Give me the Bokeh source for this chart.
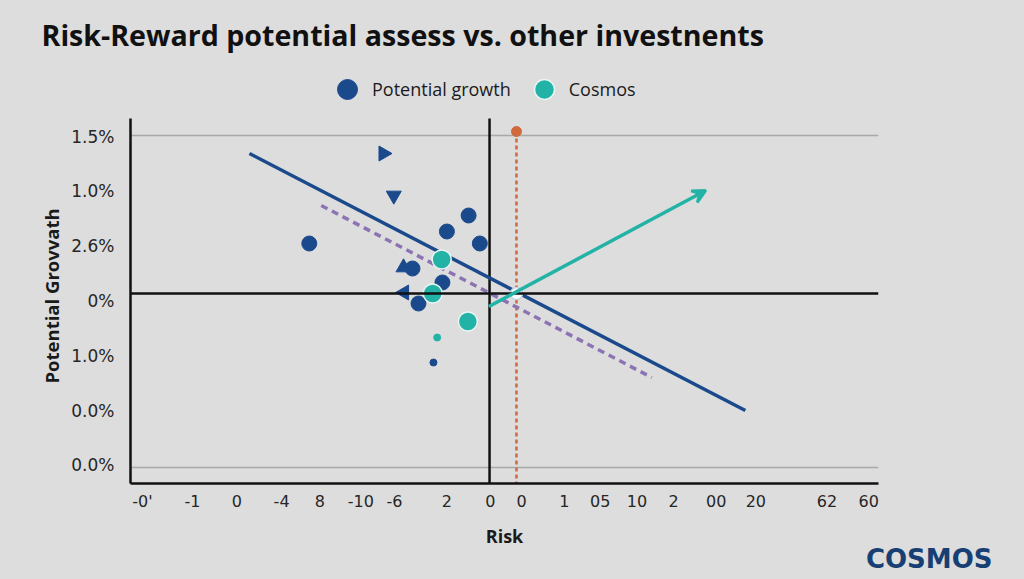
import math
from bokeh.plotting import figure
from bokeh.models import (Range1d, FixedTicker, Legend, LegendItem, Title, Span,
                          Arrow, VeeHead, ColumnDataSource, GlobalInlineStyleSheet)
from bokeh.embed import file_html
from bokeh.resources import INLINE

# ---------------- data ----------------
title_text = "Risk-Reward potential assess vs. other investnents"
x_title = "Risk"
y_title = "Potential Grovvath"
logo_text = "COSMOS"

x_tick_pos = [-46.4, -39.7, -33.8, -27.8, -22.7, -17.2, -12.7, -5.7, 0.1, 4.3,
              10.0, 14.8, 19.7, 24.6, 30.3, 35.6, 45.1, 50.7]
x_tick_labels = ["-0'", "-1", "0", "-4", "8", "-10", "-6", "2", "0", "0",
                 "1", "05", "10", "2", "00", "20", "62", "60"]

y_tick_pos = [15.7, 10.3, 4.8, -0.7, -6.2, -11.7, -17.1]
y_tick_labels = ["1.5%", "1.0%", "2.6%", "0%", "1.0%", "0.0%", "0.0%"]
y_grid_pos = [15.8, -17.4]
y_axis_extent = (-19.0, 17.5)

# Potential growth points (circles)
pg_circ_x = [-24.1, -2.8, -5.7, -1.3, -10.3, -6.3, -9.5]
pg_circ_y = [5.0, 7.8, 6.2, 5.0, 2.5, 1.1, -1.0]
# Potential growth points (triangles)
pg_tri_x = [-14.2, -12.8, -11.5, -11.4]
pg_tri_y = [14.0, 9.8, 2.6, 0.1]
pg_tri_marker = ["triangle", "inverted_triangle", "triangle", "triangle"]
pg_tri_angle = [-90, 0, 0, 90]
pg_small_x = [-7.5]
pg_small_y = [-6.9]

# Cosmos points
cos_x = [-6.4, -7.6, -2.9]
cos_y = [3.4, 0.0, -2.8]
cos_small_x = [-7.0]
cos_small_y = [-4.4]

# trend lines
blue_line_x = [-32.1, 34.2]
blue_line_y = [14.0, -11.7]
purple_line_x = [-22.5, 21.7]
purple_line_y = [8.8, -8.4]
teal_arrow_x = [-0.1, 28.9]
teal_arrow_y = [-1.3, 10.3]
orange_x = 3.6
orange_y = [16.2, -19.0]
cross_x = [3.6]
cross_y = [0.0]

BLUE = "#1b4a8c"
TEAL = "#22b3a6"
PURPLE = "#8c74b4"
ORANGE = "#d2693c"
BG = "#dddddd"

p = figure(width=1024, height=579, output_backend="svg", toolbar_location=None,
           x_range=Range1d(-48, 52), y_range=Range1d(-19, 23.1),
           background_fill_color=BG, border_fill_color=BG,
           min_border_left=130, min_border_right=146, min_border_top=62,
           min_border_bottom=96)
p.outline_line_color = None
p.stylesheets = [GlobalInlineStyleSheet(css="body{background:#dddddd;}")]

# title
p.title.text = title_text
p.title.text_font = "Open Sans"
p.title.text_font_size = "28.6px"
p.title.text_font_style = "bold"
p.title.text_color = "#111111"
p.title.align = "left"
p.title.offset = -89
p.title.standoff = 18

# axes
for ax in (p.xaxis[0], p.yaxis[0]):
    ax.axis_line_color = "#111111"
    ax.axis_line_width = 2.5
    ax.major_tick_out = 0
    ax.major_tick_in = 0
    ax.minor_tick_out = 0
    ax.minor_tick_in = 0
    ax.major_label_text_font = "DejaVu Sans"
    ax.major_label_text_color = "#262626"
    ax.axis_label_text_font = "Open Sans"
    ax.axis_label_text_font_style = "bold"
    ax.axis_label_text_color = "#1a1a1a"

p.xaxis.ticker = FixedTicker(ticks=x_tick_pos)
p.xaxis.major_label_overrides = {v: l for v, l in zip(x_tick_pos, x_tick_labels)}
p.xaxis.major_label_text_font_size = "16px"
p.xaxis.major_label_standoff = 8
p.xaxis.axis_label = x_title
p.xaxis.axis_label_text_font_size = "18px"
p.xaxis.axis_label_text_align = "left"
p.xaxis.axis_label_standoff = 10

p.yaxis.ticker = FixedTicker(ticks=y_tick_pos)
p.yaxis.bounds = y_axis_extent
p.yaxis.major_label_overrides = {v: l for v, l in zip(y_tick_pos, y_tick_labels)}
p.yaxis.major_label_text_font_size = "17px"
p.yaxis.major_label_standoff = 16

# y axis title (placed beside the axis, aligned with the reference)
p.add_layout(Title(text=y_title, text_font="Open Sans", text_font_size="18.5px",
                   text_font_style="bold", text_color="#1a1a1a", align="left",
                   offset=100, standoff=10), "left")

p.xgrid.visible = False
p.ygrid.ticker = FixedTicker(ticks=y_grid_pos)
p.ygrid.grid_line_color = "#a9a9a9"
p.ygrid.grid_line_width = 1.5

# zero lines (horizontal across the frame, vertical limited to the axis extent)
p.add_layout(Span(location=0, dimension="width", line_color="#111111", line_width=2.5))
p.line(x=[0, 0], y=list(y_axis_extent), line_color="#111111", line_width=2.5)

# orange dashed reference
p.line(x=[orange_x, orange_x], y=orange_y, line_color=ORANGE, line_width=2.5, line_dash="4 3")
p.scatter(x=[orange_x], y=[orange_y[0]], size=10, color=ORANGE)

# trend lines
p.line(x=purple_line_x, y=purple_line_y, line_color=PURPLE, line_width=3.5, line_dash="7 5")
p.line(x=blue_line_x, y=blue_line_y, line_color=BLUE, line_width=3.5)
p.add_layout(Arrow(end=VeeHead(size=13, line_color=TEAL, fill_color=TEAL, line_width=3),
                   x_start=teal_arrow_x[0], y_start=teal_arrow_y[0],
                   x_end=teal_arrow_x[1], y_end=teal_arrow_y[1],
                   line_color=TEAL, line_width=3.5))

# points
r_pg = p.scatter(x=pg_circ_x, y=pg_circ_y, size=15, color=BLUE, marker="circle")
tri_src = ColumnDataSource(dict(x=pg_tri_x, y=pg_tri_y, m=pg_tri_marker,
                                a=[math.radians(v) for v in pg_tri_angle]))
p.scatter(x="x", y="y", marker="m", angle="a", size=15, color=BLUE, source=tri_src)
p.scatter(x=pg_small_x, y=pg_small_y, size=7, color=BLUE)

r_cos = p.scatter(x=cos_x, y=cos_y, size=19, fill_color=TEAL, line_color="#e8f5f3", line_width=1.5)
p.scatter(x=cos_small_x, y=cos_small_y, size=7, color=TEAL)

p.scatter(x=cross_x, y=cross_y, size=12, fill_color="white", line_color="#c8d2e0", line_width=1.5)

legend = Legend(items=[LegendItem(label="Potential growth", renderers=[r_pg]),
                       LegendItem(label="Cosmos", renderers=[r_cos])],
                orientation="horizontal", location=(192, 369),
                label_text_font="Open Sans", label_text_font_size="18px",
                label_text_color="#1a1a1a", glyph_width=50, glyph_height=50,
                label_standoff=0, spacing=8, padding=0, margin=0,
                background_fill_alpha=0, border_line_alpha=0)
p.add_layout(legend, "center")

# logo
p.add_layout(Title(text=logo_text, text_font="DejaVu Sans", text_font_size="26px",
                   text_font_style="bold", text_color="#173f73", align="right",
                   offset=-114, standoff=-18), "below")

open("out.html", "w").write(file_html(p, INLINE))
